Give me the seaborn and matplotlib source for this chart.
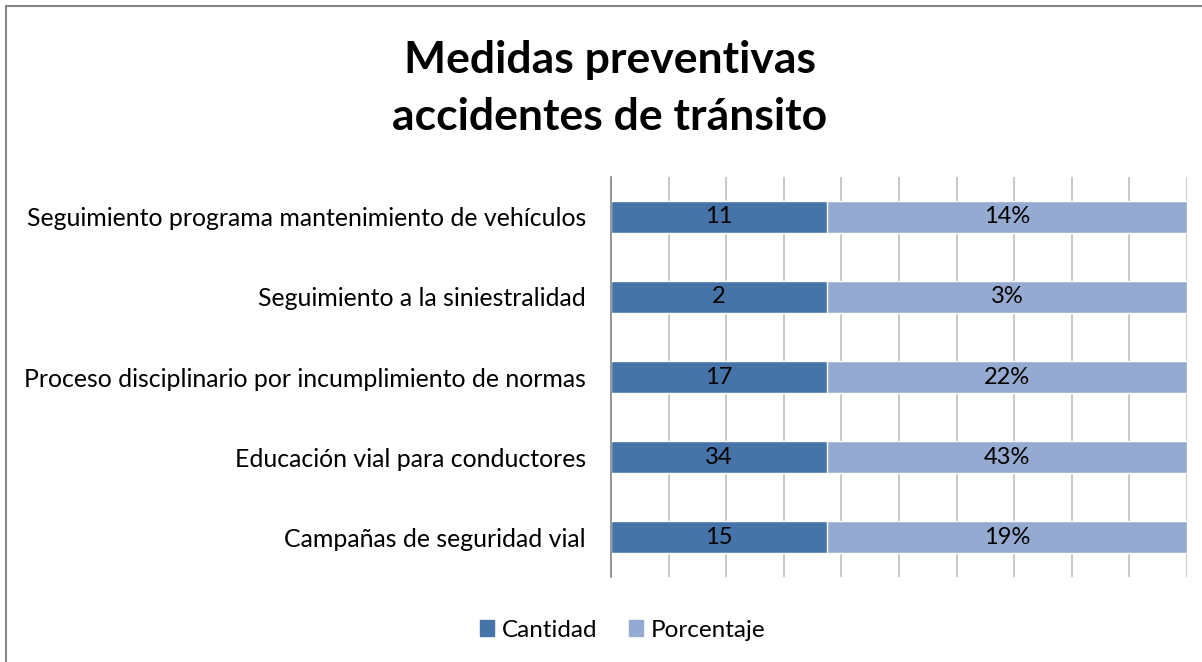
import pandas as pd
import numpy as np
import matplotlib
matplotlib.use('Agg')
import matplotlib.pyplot as plt
import seaborn as sns
from matplotlib.patches import Rectangle

# data
medidas = ['Seguimiento programa mantenimiento de vehículos',
           'Seguimiento a la siniestralidad',
           'Proceso disciplinario por incumplimiento de normas',
           'Educación vial para conductores',
           'Campañas de seguridad vial']
cantidad = [11, 2, 17, 34, 15]
porcentaje = [14, 3, 22, 43, 19]
# share of each bar taken by each segment (100% stacked)
share_cantidad = [0.375, 0.375, 0.375, 0.375, 0.375]
share_porcentaje = [0.625, 0.625, 0.625, 0.625, 0.625]

c_dark = '#4674A8'
c_light = '#95AAD1'

sns.set_theme(style='white')
plt.rcParams['font.family'] = ['Lato', 'DejaVu Sans']
plt.rcParams['text.color'] = 'black'
plt.rcParams['ytick.color'] = 'black'

df = pd.DataFrame({'medida': medidas, 'cantidad': cantidad, 'porcentaje': porcentaje,
                   'share_c': share_cantidad, 'share_p': share_porcentaje})
df['total'] = df['share_c'] + df['share_p']

fig = plt.figure(figsize=(12.02, 6.62), dpi=100)
ax = fig.add_axes([0.5083, 0.128, 0.4792, 0.605])

# full bar in light colour, cantidad drawn on top
sns.barplot(data=df, x='total', y='medida', color=c_light, width=0.4, ax=ax,
            saturation=1, orient='h')
sns.barplot(data=df, x='share_c', y='medida', color=c_dark, width=0.4, ax=ax,
            saturation=1, orient='h')

ax.set_xlim(0, 1)
ax.set_ylim(4.5, -0.5)
ax.set_xticks(np.linspace(0, 1, 11))
ax.set_xticklabels([])
ax.xaxis.grid(True, color='#BFBFBF', linewidth=1.2)
ax.set_axisbelow(True)
ax.tick_params(axis='y', length=0, pad=18, labelsize=17.9, labelcolor='black')
ax.tick_params(axis='x', length=0)
for s in ['top', 'right', 'bottom']:
    ax.spines[s].set_visible(False)
ax.spines['left'].set_color('#868686')
ax.spines['left'].set_linewidth(1.2)
ax.set_xlabel('')
ax.set_ylabel('')

for i, row in df.iterrows():
    ax.text(row['share_c'] / 2, i, f"{row['cantidad']}", ha='center', va='center',
            fontsize=17, color='black')
    ax.text(row['share_c'] + row['share_p'] / 2, i, f"{row['porcentaje']}%", ha='center',
            va='center', fontsize=17, color='black')

fig.text(0.5075, 0.866, 'Medidas preventivas\naccidentes de tránsito', ha='center', va='center',
         fontsize=32, fontweight='bold', linespacing=1.5, color='black')

handles = [Rectangle((0, 0), 1, 1, color=c_dark), Rectangle((0, 0), 1, 1, color=c_light)]
fig.legend(handles, ['Cantidad', 'Porcentaje'], loc='center', bbox_to_anchor=(0.518, 0.048),
           ncol=2, frameon=False, fontsize=17.5, handlelength=0.6, handleheight=0.6,
           handletextpad=0.3, columnspacing=1.3)

# chart border (only left and top edges are inside the picture)
fig.patches.append(Rectangle((0.0046, -0.1), 1.2, 1.0902, transform=fig.transFigure,
                             fill=False, edgecolor='#868686', linewidth=1.5))

fig.savefig('out.png', dpi=100)
